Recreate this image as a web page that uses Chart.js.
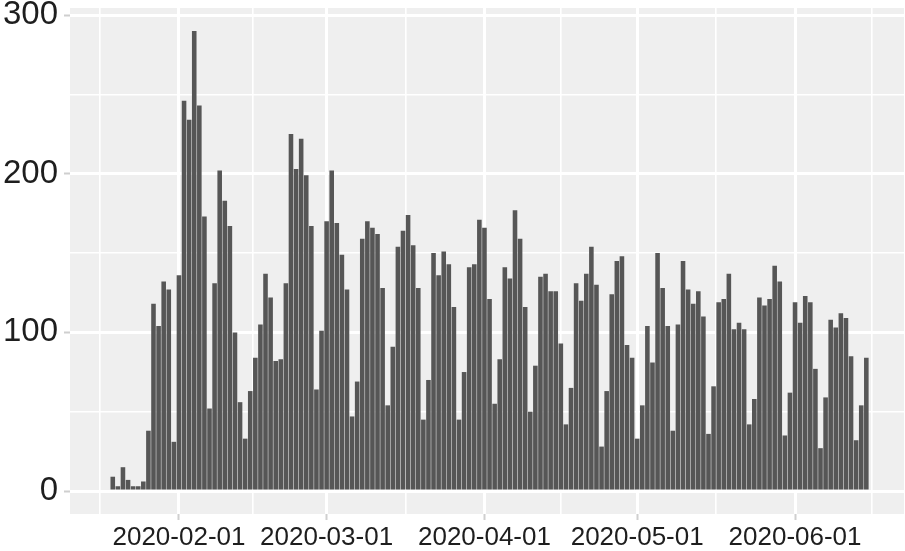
<!DOCTYPE html>
<html lang="en">

<head>
    <meta charset="UTF-8">
    <title>Daily counts</title>
    <style>
        html,
        body {
            margin: 0;
            padding: 0;
            background: #fff;
        }

        .box {
            width: 905px;
            height: 551px;
        }
    </style>
</head>

<body>
    <div class="box">
        <canvas id="myChart"></canvas>
    </div>
    <script src="https://cdn.jsdelivr.net/npm/chart.js@4.4.0/dist/chart.umd.min.js"></script>
    <script>
        // first day of the series, one bar per day after it
        const startDate = '2020-01-19';

        // daily counts
        const counts = [
            9, 3, 15, 7, 3, 3, 6, 38, 118, 104, 132, 127,
            31, 136, 246, 234, 290, 243, 173, 52, 131, 202, 183, 167, 100, 56, 33, 63, 84, 105, 137,
            122, 82, 83, 131, 225, 203, 222, 199, 167, 64,
            101, 170, 202, 169, 149, 127, 47, 69, 159, 170, 166, 162, 128, 54, 91, 154, 164, 174, 155, 128,
            45, 70, 150, 136, 151, 143, 116, 45, 75, 141, 143,
            171, 166, 121, 55, 83, 141, 134, 177, 159, 116, 50, 79, 135, 137, 126, 126, 93, 42, 65, 131,
            120, 137, 154, 130, 28, 63, 124, 145, 148, 92,
            84, 33, 54, 104, 81, 150, 128, 104, 38, 105, 145, 127, 118, 126, 110, 36, 66, 119, 121, 137,
            102, 106, 102, 42, 58, 122, 117, 121, 142, 132, 35,
            62, 119, 106, 123, 119, 77, 27, 59, 108, 103, 112, 109, 85, 32, 54, 84
        ];

        // month breaks on the x axis (the outer two only place minor lines)
        const monthBreaks = ['2020-01-01', '2020-02-01', '2020-03-01', '2020-04-01', '2020-05-01', '2020-06-01', '2020-07-01'];

        // y axis
        const yLabels = [0, 100, 200, 300];
        const yMinor = [50, 150, 250];

        function dayNum(s) {
            return (Date.parse(s + 'T00:00:00Z') - Date.parse('2020-01-01T00:00:00Z')) / 86400000;
        }

        const xMin = 9.6;
        const xMax = 173.4;

        const start = dayNum(startDate);
        const bars = counts.map((v, i) => ({ x: start + i, y: v }));

        const xMajor = monthBreaks.map(dayNum);
        const xMinor = [];
        for (let i = 0; i < xMajor.length - 1; i++) {
            xMinor.push((xMajor[i] + xMajor[i + 1]) / 2);
        }
        const xTicks = xMajor.concat(xMinor)
            .filter(v => v >= xMin && v <= xMax)
            .sort((a, b) => a - b);

        function isXMajor(v) {
            return xMajor.indexOf(v) >= 0;
        }

        // grey panel behind the grid
        const panelBg = {
            id: 'panelBg',
            beforeDraw(chart) {
                const { ctx, chartArea } = chart;
                ctx.save();
                ctx.fillStyle = '#EFEFEF';
                ctx.fillRect(chartArea.left, chartArea.top,
                    chartArea.right - chartArea.left, chartArea.bottom - chartArea.top);
                ctx.restore();
            }
        };

        const myChart = document.getElementById('myChart');
        new Chart(myChart, {
            type: 'bar',
            data: {
                datasets: [{
                    label: 'count',
                    data: bars,
                    backgroundColor: '#565656',
                    borderWidth: 0,
                    barPercentage: 0.9,
                    categoryPercentage: 1.0
                }]
            },
            options: {
                responsive: true,
                maintainAspectRatio: false,
                animation: false,
                layout: {
                    padding: { top: 8, right: 1, left: 0, bottom: 0 }
                },
                plugins: {
                    legend: { display: false },
                    tooltip: { enabled: false }
                },
                scales: {
                    x: {
                        type: 'linear',
                        offset: false,
                        min: xMin,
                        max: xMax,
                        afterBuildTicks: (scale) => {
                            scale.ticks = xTicks.map(v => ({ value: v }));
                        },
                        afterFit: (scale) => {
                            scale.height = 37;
                            scale.paddingLeft = 0;
                            scale.paddingRight = 0;
                        },
                        border: { display: false },
                        grid: {
                            offset: false,
                            color: '#FFFFFF',
                            lineWidth: (ctx) => (ctx.tick && isXMajor(ctx.tick.value)) ? 3 : 1.6,
                            tickColor: (ctx) => (ctx.tick && isXMajor(ctx.tick.value)) ? '#CFCFCF' : 'rgba(0,0,0,0)',
                            tickWidth: 2,
                            tickLength: 6
                        },
                        ticks: {
                            autoSkip: false,
                            maxRotation: 0,
                            padding: 2,
                            color: '#1e1e1e',
                            font: { family: "'Liberation Sans', Arial, sans-serif", size: 26 },
                            callback: (value) => {
                                const i = xMajor.indexOf(value);
                                return i >= 0 ? monthBreaks[i] : '';
                            }
                        }
                    },
                    y: {
                        min: -14.5,
                        max: 304.5,
                        afterBuildTicks: (scale) => {
                            scale.ticks = yLabels.concat(yMinor).sort((a, b) => a - b).map(v => ({ value: v }));
                        },
                        afterFit: (scale) => {
                            scale.width = 70;
                            scale.paddingTop = 0;
                            scale.paddingBottom = 0;
                        },
                        border: { display: false },
                        grid: {
                            color: '#FFFFFF',
                            lineWidth: (ctx) => (ctx.tick && yLabels.indexOf(ctx.tick.value) >= 0) ? 3 : 1.6,
                            tickColor: (ctx) => (ctx.tick && yLabels.indexOf(ctx.tick.value) >= 0) ? '#CFCFCF' : 'rgba(0,0,0,0)',
                            tickWidth: 2,
                            tickLength: 6
                        },
                        ticks: {
                            padding: 6,
                            color: '#1e1e1e',
                            font: { family: "'Liberation Sans', Arial, sans-serif", size: 33 },
                            callback: (value) => yLabels.indexOf(value) >= 0 ? String(value) : ''
                        }
                    }
                }
            },
            plugins: [panelBg]
        });
    </script>
</body>

</html>
